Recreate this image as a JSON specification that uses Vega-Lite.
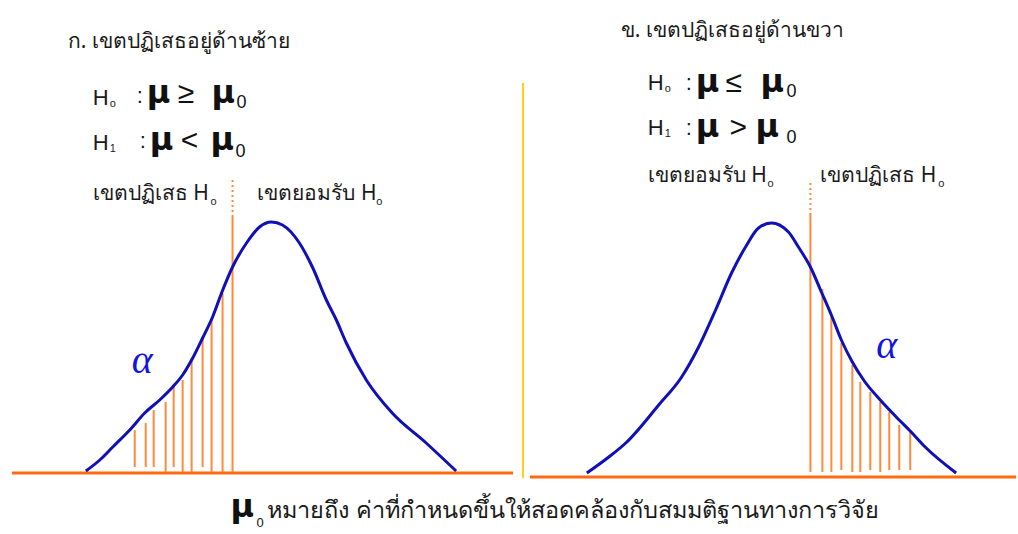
{
  "$schema": "https://vega.github.io/schema/vega-lite/v6.json",
  "width": 1018,
  "height": 534,
  "autosize": {"type": "fit", "contains": "padding"},
  "padding": 0,
  "background": "white",
  "config": {"view": {"stroke": null}},
  "datasets": {
    "curves": [
      {"side": "left", "x": 86, "y": 471}, {"side": "left", "x": 100, "y": 460}, {"side": "left", "x": 113, "y": 447},
      {"side": "left", "x": 130, "y": 430}, {"side": "left", "x": 145, "y": 413}, {"side": "left", "x": 160, "y": 400},
      {"side": "left", "x": 173, "y": 387}, {"side": "left", "x": 183, "y": 375}, {"side": "left", "x": 192, "y": 360},
      {"side": "left", "x": 203, "y": 338}, {"side": "left", "x": 213, "y": 317}, {"side": "left", "x": 222, "y": 293},
      {"side": "left", "x": 233, "y": 267}, {"side": "left", "x": 247, "y": 243}, {"side": "left", "x": 260, "y": 227},
      {"side": "left", "x": 272, "y": 222}, {"side": "left", "x": 283, "y": 225}, {"side": "left", "x": 300, "y": 243},
      {"side": "left", "x": 313, "y": 267}, {"side": "left", "x": 327, "y": 300}, {"side": "left", "x": 337, "y": 320},
      {"side": "left", "x": 347, "y": 343}, {"side": "left", "x": 367, "y": 380}, {"side": "left", "x": 393, "y": 413},
      {"side": "left", "x": 427, "y": 443}, {"side": "left", "x": 457, "y": 471},
      {"side": "right", "x": 588, "y": 473}, {"side": "right", "x": 610, "y": 457}, {"side": "right", "x": 627, "y": 443},
      {"side": "right", "x": 660, "y": 405}, {"side": "right", "x": 683, "y": 377}, {"side": "right", "x": 700, "y": 347},
      {"side": "right", "x": 717, "y": 310}, {"side": "right", "x": 733, "y": 273}, {"side": "right", "x": 747, "y": 247},
      {"side": "right", "x": 760, "y": 228}, {"side": "right", "x": 773, "y": 223}, {"side": "right", "x": 790, "y": 232},
      {"side": "right", "x": 800, "y": 247}, {"side": "right", "x": 812, "y": 267}, {"side": "right", "x": 823, "y": 292},
      {"side": "right", "x": 833, "y": 315}, {"side": "right", "x": 843, "y": 340}, {"side": "right", "x": 854, "y": 362},
      {"side": "right", "x": 866, "y": 381}, {"side": "right", "x": 882, "y": 400}, {"side": "right", "x": 901, "y": 420},
      {"side": "right", "x": 912, "y": 431}, {"side": "right", "x": 927, "y": 447}, {"side": "right", "x": 958, "y": 473}
    ],
    "hatch": [
      {"side": "left", "x": 135, "top": 430, "bottom": 467}, {"side": "left", "x": 146, "top": 423, "bottom": 467},
      {"side": "left", "x": 154, "top": 410, "bottom": 467}, {"side": "left", "x": 166, "top": 402, "bottom": 472},
      {"side": "left", "x": 174, "top": 387, "bottom": 467}, {"side": "left", "x": 183, "top": 380, "bottom": 472},
      {"side": "left", "x": 192, "top": 358, "bottom": 472}, {"side": "left", "x": 203, "top": 338, "bottom": 467},
      {"side": "left", "x": 212, "top": 318, "bottom": 472}, {"side": "left", "x": 223, "top": 293, "bottom": 472},
      {"side": "right", "x": 824, "top": 289, "bottom": 472}, {"side": "right", "x": 833, "top": 317, "bottom": 472},
      {"side": "right", "x": 843, "top": 343, "bottom": 470}, {"side": "right", "x": 854, "top": 365, "bottom": 472},
      {"side": "right", "x": 862, "top": 382, "bottom": 472}, {"side": "right", "x": 872, "top": 392, "bottom": 470},
      {"side": "right", "x": 882, "top": 402, "bottom": 472}, {"side": "right", "x": 891, "top": 412, "bottom": 470},
      {"side": "right", "x": 901, "top": 425, "bottom": 470}, {"side": "right", "x": 912, "top": 430, "bottom": 470}
    ],
    "critical": [
      {"side": "left", "x": 233, "dotTop": 180, "top": 215, "bottom": 472},
      {"side": "right", "x": 812, "dotTop": 183, "top": 215, "bottom": 472}
    ],
    "baselines": [
      {"side": "left", "x1": 12, "x2": 514, "y": 473},
      {"side": "right", "x1": 531, "x2": 1018, "y": 477}
    ],
    "divider": [{"x": 524, "y1": 83, "y2": 478}],
    "labels": [
      {"role": "thai", "x": 68, "y": 48, "text": "ก. เขตปฏิเสธอยู่ด้านซ้าย"},
      {"role": "h", "x": 93, "y": 105, "text": "H"},
      {"role": "sub", "x": 110, "y": 107, "text": "o"},
      {"role": "h", "x": 137, "y": 103, "text": ":"},
      {"role": "mu", "x": 147, "y": 103, "text": "μ"},
      {"role": "op", "x": 178, "y": 103, "text": "≥"},
      {"role": "mu", "x": 212, "y": 103, "text": "μ"},
      {"role": "zero", "x": 237, "y": 108, "text": "0"},
      {"role": "h", "x": 93, "y": 150, "text": "H"},
      {"role": "sub", "x": 110, "y": 152, "text": "1"},
      {"role": "h", "x": 140, "y": 148, "text": ":"},
      {"role": "mu", "x": 150, "y": 150, "text": "μ"},
      {"role": "op", "x": 181, "y": 150, "text": "<"},
      {"role": "mu", "x": 211, "y": 150, "text": "μ"},
      {"role": "zero", "x": 236, "y": 157, "text": "0"},
      {"role": "thai", "x": 93, "y": 200, "text": "เขตปฏิเสธ H"},
      {"role": "sub", "x": 211, "y": 205, "text": "o"},
      {"role": "thai", "x": 258, "y": 200, "text": "เขตยอมรับ H"},
      {"role": "sub", "x": 377, "y": 205, "text": "o"},
      {"role": "thai", "x": 622, "y": 37, "text": "ข. เขตปฏิเสธอยู่ด้านขวา"},
      {"role": "h", "x": 649, "y": 90, "text": "H"},
      {"role": "sub", "x": 666, "y": 92, "text": "o"},
      {"role": "h", "x": 687, "y": 90, "text": ":"},
      {"role": "mu", "x": 697, "y": 92, "text": "μ"},
      {"role": "op", "x": 727, "y": 92, "text": "≤"},
      {"role": "mu", "x": 762, "y": 92, "text": "μ"},
      {"role": "zero", "x": 788, "y": 97, "text": "0"},
      {"role": "h", "x": 649, "y": 135, "text": "H"},
      {"role": "sub", "x": 666, "y": 137, "text": "1"},
      {"role": "h", "x": 687, "y": 135, "text": ":"},
      {"role": "mu", "x": 697, "y": 137, "text": "μ"},
      {"role": "op", "x": 731, "y": 137, "text": ">"},
      {"role": "mu", "x": 757, "y": 137, "text": "μ"},
      {"role": "zero", "x": 788, "y": 143, "text": "0"},
      {"role": "thai", "x": 649, "y": 182, "text": "เขตยอมรับ H"},
      {"role": "sub", "x": 769, "y": 187, "text": "o"},
      {"role": "thai", "x": 822, "y": 182, "text": "เขตปฏิเสธ H"},
      {"role": "sub", "x": 940, "y": 187, "text": "o"},
      {"role": "mu", "x": 231, "y": 517, "text": "μ"},
      {"role": "subzero", "x": 257, "y": 527, "text": "0"},
      {"role": "note", "x": 268, "y": 518, "text": "หมายถึง  ค่าที่กำหนดขึ้นให้สอดคล้องกับสมมติฐานทางการวิจัย"},
      {"role": "alpha", "x": 132, "y": 373, "text": "α"},
      {"role": "alpha", "x": 878, "y": 358, "text": "α"}
    ]
  },
  "encoding": {
    "x": {"type": "quantitative", "scale": {"domain": [0, 1018], "nice": false, "zero": false}, "axis": null},
    "y": {"type": "quantitative", "scale": {"domain": [0, 534], "reverse": true, "nice": false, "zero": false}, "axis": null}
  },
  "layer": [
    {
      "data": {"name": "divider"},
      "mark": {"type": "rule", "color": "#FFCC22", "strokeWidth": 2},
      "encoding": {"x": {"field": "x"}, "y": {"field": "y1"}, "y2": {"field": "y2"}}
    },
    {
      "data": {"name": "baselines"},
      "mark": {"type": "rule", "color": "#FF6A10", "strokeWidth": 3},
      "encoding": {"x": {"field": "x1"}, "x2": {"field": "x2"}, "y": {"field": "y"}}
    },
    {
      "data": {"name": "hatch"},
      "mark": {"type": "rule", "color": "#FF8A3C", "strokeWidth": 2},
      "encoding": {"x": {"field": "x"}, "y": {"field": "top"}, "y2": {"field": "bottom"}}
    },
    {
      "data": {"name": "critical"},
      "mark": {"type": "rule", "color": "#FF8A3C", "strokeWidth": 2, "strokeDash": [2, 3]},
      "encoding": {"x": {"field": "x"}, "y": {"field": "dotTop"}, "y2": {"field": "top"}}
    },
    {
      "data": {"name": "critical"},
      "mark": {"type": "rule", "color": "#FF8A3C", "strokeWidth": 2},
      "encoding": {"x": {"field": "x"}, "y": {"field": "top"}, "y2": {"field": "bottom"}}
    },
    {
      "data": {"name": "curves"},
      "mark": {"type": "line", "color": "#1010B8", "strokeWidth": 3, "interpolate": "monotone"},
      "encoding": {"x": {"field": "x"}, "y": {"field": "y"}, "detail": {"field": "side"}}
    },
    {
      "data": {"name": "labels"},
      "transform": [{"filter": "datum.role === 'thai'"}],
      "mark": {"type": "text", "align": "left", "baseline": "alphabetic", "font": "Tahoma, Noto Sans, DejaVu Sans, sans-serif", "fontSize": 21, "color": "#1a1a1a"},
      "encoding": {"x": {"field": "x"}, "y": {"field": "y"}, "text": {"field": "text"}}
    },
    {
      "data": {"name": "labels"},
      "transform": [{"filter": "datum.role === 'note'"}],
      "mark": {"type": "text", "align": "left", "baseline": "alphabetic", "font": "Tahoma, Noto Sans, DejaVu Sans, sans-serif", "fontSize": 23.5, "color": "#1a1a1a"},
      "encoding": {"x": {"field": "x"}, "y": {"field": "y"}, "text": {"field": "text"}}
    },
    {
      "data": {"name": "labels"},
      "transform": [{"filter": "datum.role === 'h'"}],
      "mark": {"type": "text", "align": "left", "baseline": "alphabetic", "font": "Liberation Sans, Arial, sans-serif", "fontSize": 22, "color": "#1a1a1a"},
      "encoding": {"x": {"field": "x"}, "y": {"field": "y"}, "text": {"field": "text"}}
    },
    {
      "data": {"name": "labels"},
      "transform": [{"filter": "datum.role === 'sub'"}],
      "mark": {"type": "text", "align": "left", "baseline": "alphabetic", "font": "Liberation Sans, Arial, sans-serif", "fontSize": 11, "color": "#1a1a1a"},
      "encoding": {"x": {"field": "x"}, "y": {"field": "y"}, "text": {"field": "text"}}
    },
    {
      "data": {"name": "labels"},
      "transform": [{"filter": "datum.role === 'mu'"}],
      "mark": {"type": "text", "align": "left", "baseline": "alphabetic", "font": "DejaVu Sans, sans-serif", "fontSize": 32, "fontWeight": "bold", "color": "#111111"},
      "encoding": {"x": {"field": "x"}, "y": {"field": "y"}, "text": {"field": "text"}}
    },
    {
      "data": {"name": "labels"},
      "transform": [{"filter": "datum.role === 'op'"}],
      "mark": {"type": "text", "align": "left", "baseline": "alphabetic", "font": "Liberation Sans, Arial, sans-serif", "fontSize": 30, "color": "#111111"},
      "encoding": {"x": {"field": "x"}, "y": {"field": "y"}, "text": {"field": "text"}}
    },
    {
      "data": {"name": "labels"},
      "transform": [{"filter": "datum.role === 'zero'"}],
      "mark": {"type": "text", "align": "left", "baseline": "alphabetic", "font": "Liberation Sans, Arial, sans-serif", "fontSize": 18, "color": "#111111"},
      "encoding": {"x": {"field": "x"}, "y": {"field": "y"}, "text": {"field": "text"}}
    },
    {
      "data": {"name": "labels"},
      "transform": [{"filter": "datum.role === 'subzero'"}],
      "mark": {"type": "text", "align": "left", "baseline": "alphabetic", "font": "Liberation Sans, Arial, sans-serif", "fontSize": 13, "color": "#111111"},
      "encoding": {"x": {"field": "x"}, "y": {"field": "y"}, "text": {"field": "text"}}
    },
    {
      "data": {"name": "labels"},
      "transform": [{"filter": "datum.role === 'alpha'"}],
      "mark": {"type": "text", "align": "left", "baseline": "alphabetic", "font": "Liberation Serif, Times New Roman, serif", "fontStyle": "italic", "fontSize": 40, "color": "#1414E0"},
      "encoding": {"x": {"field": "x"}, "y": {"field": "y"}, "text": {"field": "text"}}
    }
  ]
}
